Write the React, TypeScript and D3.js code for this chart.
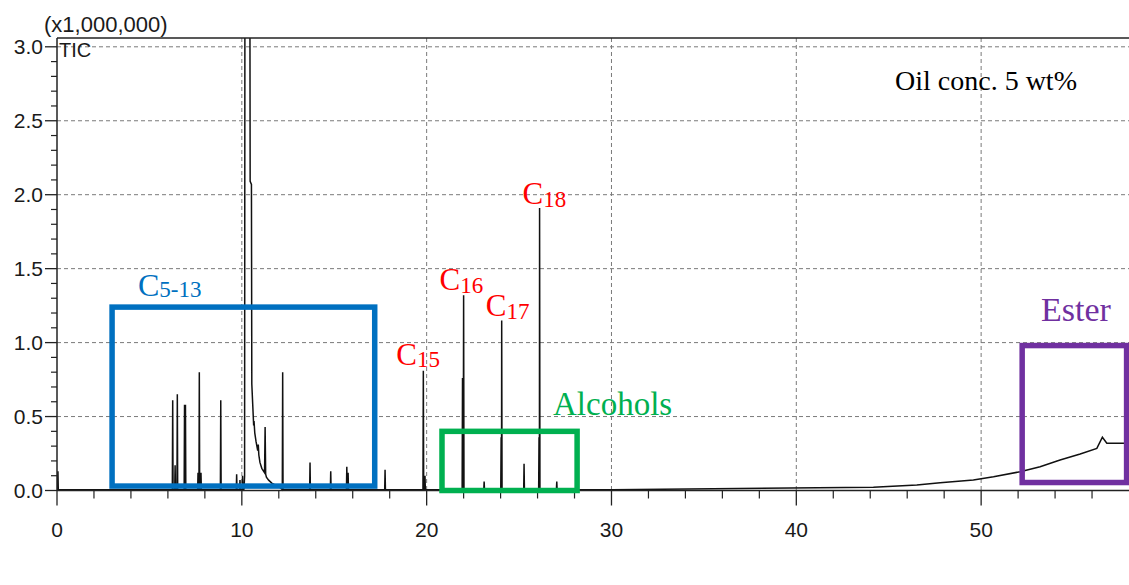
import React from 'react';
import * as d3 from 'd3';

// ---- data ----
const xTickValues = [0, 10, 20, 30, 40, 50];
const xTickLabels = ['0', '10', '20', '30', '40', '50'];
const yTickValues = [0, 0.5, 1.0, 1.5, 2.0, 2.5, 3.0];
const yTickLabels = ['0.0', '0.5', '1.0', '1.5', '2.0', '2.5', '3.0'];

// narrow peaks (retention time in min, intensity x1,000,000)
const peakTimes = [0.05, 6.26, 6.39, 6.51, 6.90, 6.95, 7.63, 7.70, 7.79, 8.86, 9.72, 9.90, 10.04, 12.21, 13.69, 14.81, 15.68, 15.75, 17.75, 19.82, 19.91, 21.94, 22.00, 23.11, 24.03, 24.06, 25.27, 26.08, 26.11, 27.04];
const peakHeights = [0.13, 0.61, 0.17, 0.65, 0.58, 0.58, 0.12, 0.80, 0.12, 0.61, 0.11, 0.07, 0.10, 0.80, 0.19, 0.13, 0.16, 0.12, 0.14, 0.81, 0.10, 0.76, 1.32, 0.06, 0.36, 1.15, 0.18, 0.36, 1.91, 0.06];

// the saturated main peak and its tail
const mainTimes = [10.12, 10.15, 10.17, 10.43, 10.45, 10.52, 10.54, 10.59, 10.64, 10.66, 10.70, 10.77, 10.86, 10.89, 10.92, 10.98, 11.08, 11.23, 11.26, 11.29, 11.33, 11.45, 11.62, 12.07];
const mainValues = [0.01, 0.10, 4.0, 4.0, 2.09, 2.07, 0.72, 0.58, 0.44, 0.47, 0.39, 0.33, 0.27, 0.31, 0.24, 0.19, 0.15, 0.12, 0.43, 0.11, 0.09, 0.07, 0.05, 0.02];

// baseline drift (ester region)
const driftTimes = [0, 30, 44.17, 46.52, 47.78, 49.58, 50.67, 52.11, 53.19, 54.27, 55.36, 56.26, 56.56, 56.80, 58.0];
const driftValues = [0.005, 0.005, 0.022, 0.037, 0.053, 0.071, 0.093, 0.127, 0.161, 0.206, 0.247, 0.285, 0.36, 0.32, 0.32];

const W = 1129;
const H = 585;
const left = 57;
const right = 1129;
const top = 38;
const bottom = 490.5;

const SANS = '"Liberation Sans", Arial, sans-serif';
const SERIF = '"Liberation Serif", "Times New Roman", serif';

export default function App() {
  const x = d3.scaleLinear().domain([0, 58.0]).range([left, right]);
  const y = d3.scaleLinear().domain([0, 3.0]).range([bottom, bottom - 3.0 * 147.9]);

  const pts: [number, number][] = [];
  driftTimes.forEach((t, i) => pts.push([t, driftValues[i]]));
  const base = driftValues[0];
  const hw = 0.02;
  peakTimes.forEach((t, i) => {
    pts.push([t - hw, base]);
    pts.push([t, peakHeights[i]]);
    pts.push([t + hw, base]);
  });
  mainTimes.forEach((t, i) => pts.push([t, mainValues[i]]));
  pts.sort((a, b) => a[0] - b[0]);

  const line = d3
    .line<[number, number]>()
    .x((d) => x(d[0]))
    .y((d) => y(d[1]));

  const minorX = d3.range(0, 58, 2).filter((v) => v % 10 !== 0);
  const minorY = d3
    .range(0, 3.05, 0.1)
    .map((v) => Math.round(v * 10) / 10)
    .filter((v) => Math.round(v * 10) % 5 !== 0);

  const box = (x0: number, x1: number, y0: number, y1: number, color: string) => (
    <rect
      x={x(x0)}
      y={y(y1)}
      width={x(x1) - x(x0)}
      height={y(y0) - y(y1)}
      fill="none"
      stroke={color}
      strokeWidth={5.5}
    />
  );

  const cLabel = (t: number, h: number, sub: string, dx: number, dy: number, key: string) => (
    <text key={key} x={x(t) + dx} y={y(h) + dy} fill="#FF0000" fontFamily={SERIF} fontSize={31}>
      C
      <tspan fontSize={23} dy={2.5}>
        {sub}
      </tspan>
    </text>
  );

  return (
    <svg
      width={W}
      height={H}
      style={{ position: 'absolute', left: 0, top: 0, background: '#fff' }}
      xmlns="http://www.w3.org/2000/svg"
    >
      <defs>
        <clipPath id="plot">
          <rect x={left} y={top} width={right - left} height={bottom - top + 1} />
        </clipPath>
      </defs>
      <rect x={0} y={0} width={W} height={H} fill="#fff" />

      {/* grid */}
      {yTickValues.slice(1).map((v) => (
        <line key={'gy' + v} x1={left} x2={right} y1={y(v)} y2={y(v)} stroke="#7a7a7a" strokeWidth={1} strokeDasharray="4 3" />
      ))}
      {xTickValues.slice(1).map((v) => (
        <line key={'gx' + v} x1={x(v)} x2={x(v)} y1={top} y2={bottom} stroke="#7a7a7a" strokeWidth={1} strokeDasharray="4 3" />
      ))}

      {/* chromatogram */}
      <path d={line(pts) || ''} fill="none" stroke="#111" strokeWidth={1.5} clipPath="url(#plot)" />

      {/* frame / axes */}
      <line x1={left} x2={right} y1={top} y2={top} stroke="#222" strokeWidth={1.5} />
      <line x1={left} x2={left} y1={top} y2={bottom} stroke="#222" strokeWidth={1.5} />
      <line x1={left} x2={right} y1={bottom} y2={bottom} stroke="#222" strokeWidth={1.5} />

      {/* y ticks */}
      {yTickValues.map((v, i) => (
        <g key={'yt' + v}>
          <line x1={left - 12} x2={left} y1={y(v)} y2={y(v)} stroke="#222" strokeWidth={1.3} />
          <text x={left - 14} y={y(v) + 7.5} textAnchor="end" fontFamily={SANS} fontSize={21} fill="#1a1a1a">
            {yTickLabels[i]}
          </text>
        </g>
      ))}
      {minorY.map((v) => (
        <line key={'ym' + v} x1={left - 6} x2={left} y1={y(v)} y2={y(v)} stroke="#222" strokeWidth={1.2} />
      ))}

      {/* x ticks */}
      {xTickValues.map((v, i) => (
        <g key={'xt' + v}>
          <line x1={x(v)} x2={x(v)} y1={bottom} y2={bottom + 15} stroke="#222" strokeWidth={1.3} />
          <text x={x(v)} y={537} textAnchor="middle" fontFamily={SANS} fontSize={21} fill="#1a1a1a">
            {xTickLabels[i]}
          </text>
        </g>
      ))}
      {minorX.map((v) => (
        <line key={'xm' + v} x1={x(v)} x2={x(v)} y1={bottom} y2={bottom + 8} stroke="#222" strokeWidth={1.2} />
      ))}

      <text x={44} y={32} fontFamily={SANS} fontSize={22} fill="#1a1a1a">
        (x1,000,000)
      </text>
      <text x={59} y={57} fontFamily={SANS} fontSize={20} fill="#1a1a1a">
        TIC
      </text>

      {/* annotation boxes */}
      {box(2.98, 17.19, 0.03, 1.24, '#0070C0')}
      {box(20.83, 28.14, 0.0, 0.40, '#00B050')}
      {box(52.22, 57.87, 0.054, 0.98, '#7030A0')}

      {/* labels */}
      <text x={138} y={296} fill="#0070C0" fontFamily={SERIF} fontSize={32}>
        C
        <tspan fontSize={23} dy={1}>
          5-13
        </tspan>
      </text>
      {cLabel(peakTimes[19], peakHeights[19], '15', -27, -6, 'c15')}
      {cLabel(peakTimes[22], peakHeights[22], '16', -24, -5, 'c16')}
      {cLabel(peakTimes[25], peakHeights[25], '17', -16, -4, 'c17')}
      {cLabel(peakTimes[28], peakHeights[28], '18', -17, -4, 'c18')}
      <text x={553} y={415} fill="#00B050" fontFamily={SERIF} fontSize={33}>
        Alcohols
      </text>
      <text x={1041} y={320.5} fill="#7030A0" fontFamily={SERIF} fontSize={34}>
        Ester
      </text>
      <text x={895} y={90} fill="#000" fontFamily={SERIF} fontSize={28}>
        Oil conc. 5 wt%
      </text>
    </svg>
  );
}
